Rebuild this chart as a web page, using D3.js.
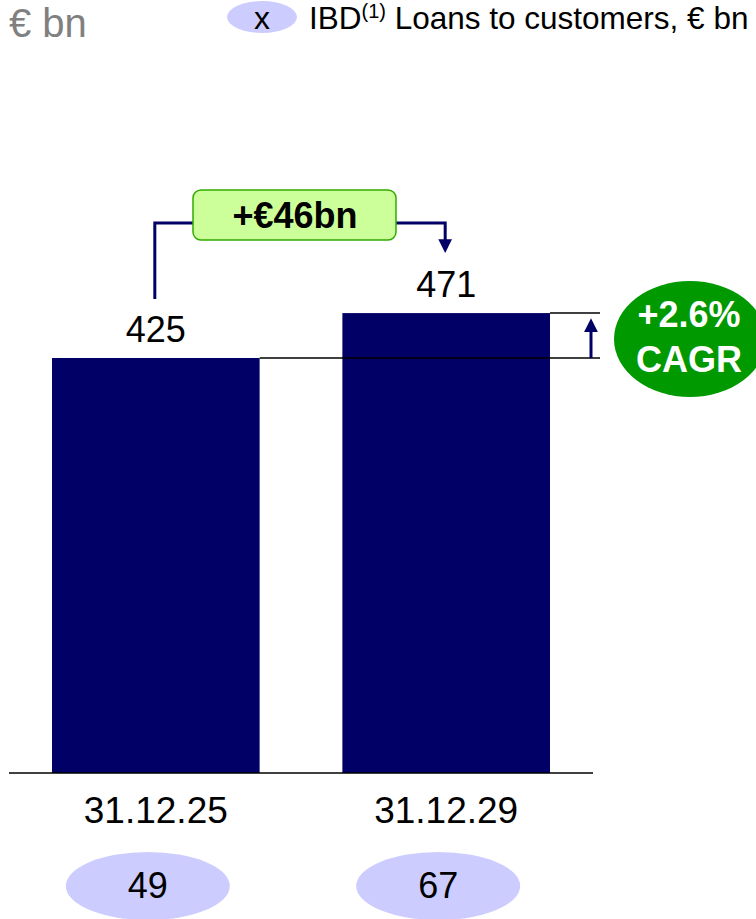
<!DOCTYPE html>
<html>
<head>
<meta charset="utf-8">
<script src="https://cdn.jsdelivr.net/npm/d3@7"></script>
<style>
  body { margin: 0; background: #fff; }
  text { font-family: "Liberation Sans", Arial, sans-serif; }
</style>
</head>
<body>
<div class="chart"></div>
<script>
var categories = ["31.12.25", "31.12.29"];
var loans = [425, 471];
var ibd = [49, 67];
var deltaLabel = "+€46bn";
var cagrLabel = ["+2.6%", "CAGR"];

var width = 756, height = 919;
var navy = "#000066";

var svg = d3.select(".chart")
  .append("svg")
  .attr("width", width)
  .attr("height", height);

var x = d3.scaleBand()
  .domain(categories)
  .range([52, 550])
  .paddingInner(0.285)
  .paddingOuter(0);

var y = d3.scaleLinear()
  .domain([0, 500])
  .range([773, 773 - 415 / 425 * 500]);

// arrowhead
var defs = svg.append("defs");
defs.append("marker")
  .attr("id", "arrow")
  .attr("viewBox", "0 0 10 10")
  .attr("refX", 5).attr("refY", 5)
  .attr("markerWidth", 4.6).attr("markerHeight", 4.6)
  .attr("markerUnits", "strokeWidth")
  .attr("orient", "auto")
  .append("path")
  .attr("d", "M0,0 L10,5 L0,10 z")
  .style("fill", navy);

// header
svg.append("text")
  .attr("x", 9).attr("y", 37)
  .style("font-size", "40px")
  .style("fill", "#808080")
  .text("€ bn");

svg.append("ellipse")
  .attr("cx", 262).attr("cy", 17)
  .attr("rx", 35).attr("ry", 16)
  .style("fill", "#ccccff");
svg.append("text")
  .attr("x", 262).attr("y", 29)
  .attr("text-anchor", "middle")
  .style("font-size", "32px")
  .text("x");

var legend = svg.append("text")
  .attr("x", 309).attr("y", 29)
  .style("font-size", "31.5px");
legend.append("tspan").text("IBD");
legend.append("tspan")
  .attr("dy", -11)
  .style("font-size", "20px")
  .text("(1)");
legend.append("tspan")
  .attr("dy", 11)
  .text(" Loans to customers, € bn");

// bars
svg.selectAll(".bar")
  .data(loans)
  .enter().append("rect")
  .attr("class", "bar")
  .attr("x", function(d, i) { return x(categories[i]); })
  .attr("y", function(d) { return y(d); })
  .attr("width", x.bandwidth())
  .attr("height", function(d) { return y(0) - y(d); })
  .style("fill", navy);

// baseline
svg.append("line")
  .attr("x1", 9).attr("x2", 593)
  .attr("y1", y(0)).attr("y2", y(0))
  .style("stroke", "#000")
  .style("stroke-width", 1.5);

// value labels
svg.selectAll(".val")
  .data(loans)
  .enter().append("text")
  .attr("class", "val")
  .attr("x", function(d, i) { return x(categories[i]) + x.bandwidth() / 2; })
  .attr("y", function(d) { return y(d) - 16; })
  .attr("text-anchor", "middle")
  .style("font-size", "36px")
  .text(function(d) { return d; });

// category labels
svg.selectAll(".cat")
  .data(categories)
  .enter().append("text")
  .attr("class", "cat")
  .attr("x", function(d) { return x(d) + x.bandwidth() / 2; })
  .attr("y", 823)
  .attr("text-anchor", "middle")
  .style("font-size", "37px")
  .text(function(d) { return d; });

// IBD ellipses
var ib = svg.selectAll(".ibd")
  .data(ibd)
  .enter().append("g")
  .attr("class", "ibd")
  .attr("transform", function(d, i) {
    return "translate(" + (x(categories[i]) + x.bandwidth() / 2 - 8) + ",886)";
  });
ib.append("ellipse")
  .attr("rx", 82).attr("ry", 34)
  .style("fill", "#ccccff");
ib.append("text")
  .attr("y", 12)
  .attr("text-anchor", "middle")
  .style("font-size", "36px")
  .text(function(d) { return d; });

// bracket between bars
var xl = x(categories[0]) + x.bandwidth() / 2 - 1;
var xr = x(categories[1]) + x.bandwidth() / 2 - 1;
var topY = 223;
svg.append("path")
  .attr("d", "M" + xl + "," + (y(loans[0]) - 59) + " V" + topY + " H" + xr + " V" + (y(loans[1]) - 67))
  .attr("marker-end", "url(#arrow)")
  .style("fill", "none")
  .style("stroke", navy)
  .style("stroke-width", 3);

svg.append("rect")
  .attr("x", 193).attr("y", 190)
  .attr("width", 203).attr("height", 50)
  .attr("rx", 8)
  .style("fill", "#ccff99")
  .style("stroke", "#33aa00")
  .style("stroke-width", 1.5);
svg.append("text")
  .attr("x", 295).attr("y", 228)
  .attr("text-anchor", "middle")
  .style("font-size", "36px")
  .style("font-weight", "bold")
  .text(deltaLabel);

// reference lines at bar tops
var x1end = x(categories[0]) + x.bandwidth();
var x2end = x(categories[1]) + x.bandwidth();
svg.append("line")
  .attr("x1", x1end).attr("x2", 600)
  .attr("y1", y(loans[0])).attr("y2", y(loans[0]))
  .style("stroke", "#000").style("stroke-width", 1.5);
svg.append("line")
  .attr("x1", x2end).attr("x2", 600)
  .attr("y1", y(loans[1])).attr("y2", y(loans[1]))
  .style("stroke", "#000").style("stroke-width", 1.5);
svg.append("line")
  .attr("x1", 591).attr("x2", 591)
  .attr("y1", y(loans[0])).attr("y2", y(loans[1]) + 12)
  .attr("marker-end", "url(#arrow)")
  .style("stroke", navy).style("stroke-width", 3);

// CAGR bubble
svg.append("ellipse")
  .attr("cx", 690).attr("cy", 339)
  .attr("rx", 76).attr("ry", 58)
  .style("fill", "#009900");
svg.selectAll(".cagr")
  .data(cagrLabel)
  .enter().append("text")
  .attr("class", "cagr")
  .attr("x", 689)
  .attr("y", function(d, i) { return 327 + i * 45; })
  .attr("text-anchor", "middle")
  .style("font-size", "36px")
  .style("font-weight", "bold")
  .style("fill", "#fff")
  .text(function(d) { return d; });
</script>
</body>
</html>
